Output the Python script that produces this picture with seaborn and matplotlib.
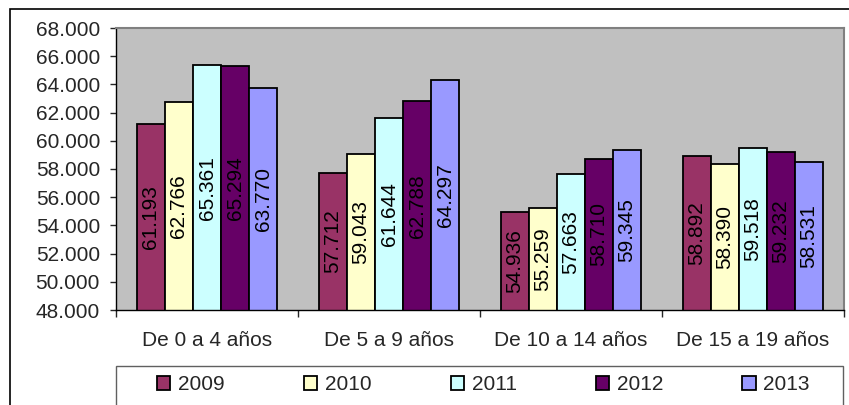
import matplotlib
matplotlib.use("Agg")
import matplotlib.pyplot as plt
import pandas as pd
import seaborn as sns
from matplotlib.patches import Rectangle

# Población por grupo de edad (miles), 2009-2013
categories = ["De 0 a 4 años", "De 5 a 9 años", "De 10 a 14 años", "De 15 a 19 años"]
years = ["2009", "2010", "2011", "2012", "2013"]
v2009 = [61.193, 57.712, 54.936, 58.892]
v2010 = [62.766, 59.043, 55.259, 58.390]
v2011 = [65.361, 61.644, 57.663, 59.518]
v2012 = [65.294, 62.788, 58.710, 59.232]
v2013 = [63.770, 64.297, 59.345, 58.531]
colors = ["#993366", "#FFFFCC", "#CCFFFF", "#660066", "#9999FF"]

Y_MIN, Y_MAX = 48, 68
y_ticks = list(range(Y_MIN, Y_MAX + 1, 2))

rows = []
for year, vals in zip(years, [v2009, v2010, v2011, v2012, v2013]):
    for cat, v in zip(categories, vals):
        rows.append({"grupo": cat, "anio": year, "valor": v})
df = pd.DataFrame(rows)

sns.set_style("white")
plt.rcParams["font.family"] = ["Liberation Sans", "DejaVu Sans"]

W, H = 849, 405
fig = plt.figure(figsize=(W / 100, H / 100), dpi=100)
ax = fig.add_axes([116 / W, 1 - 310 / H, (844 - 116) / W, (310 - 28) / H])
ax.set_facecolor("#C0C0C0")

sns.barplot(
    data=df,
    x="grupo",
    y="valor",
    hue="anio",
    order=categories,
    hue_order=years,
    palette=colors,
    saturation=1,
    width=0.77,
    edgecolor="black",
    linewidth=1.3,
    ax=ax,
)

# value labels, vertical, centred in the visible part of each bar
for cont in ax.containers:
    for bar in cont:
        h = bar.get_height()
        ax.text(
            bar.get_x() + bar.get_width() / 2,
            (Y_MIN + h) / 2,
            f"{h:.3f}",
            rotation=90,
            ha="center",
            va="center",
            fontsize=15,
            color="black",
        )

ax.set_ylim(Y_MIN, Y_MAX)
ax.set_xlim(-0.5, len(categories) - 0.5)
ax.set_yticks(y_ticks)
ax.set_yticklabels([f"{t:.3f}" for t in y_ticks], fontsize=15)
ax.tick_params(axis="y", length=4.5, width=1, pad=7, direction="out", left=True)

# separators between groups as major ticks, names as minor ticks
ax.set_xticks([i - 0.5 for i in range(len(categories) + 1)])
ax.set_xticklabels([""] * (len(categories) + 1))
ax.set_xticks(range(len(categories)), minor=True)
ax.set_xticklabels(categories, minor=True, fontsize=15)
ax.tick_params(axis="x", which="major", length=5, width=1, direction="out", bottom=True)
ax.tick_params(axis="x", which="minor", length=0, pad=15)
ax.set_xlabel("")
ax.set_ylabel("")

for side in ["top", "right"]:
    ax.spines[side].set_color("#808080")
    ax.spines[side].set_linewidth(1.5)
for side in ["left", "bottom"]:
    ax.spines[side].set_color("black")
    ax.spines[side].set_linewidth(1)

handles, labels = ax.get_legend_handles_labels()
ax.get_legend().remove()

# legend box under the plot area
fig.add_artist(Rectangle(
    (116 / W, -0.05), (843 - 116) / W, 0.05 + (405 - 366) / H,
    transform=fig.transFigure, facecolor="white", edgecolor="#606060", lw=1, zorder=1,
))
fig.legend(
    handles, labels,
    ncol=5,
    loc="center left",
    bbox_to_anchor=(157 / W, 1 - 385 / H),
    frameon=False,
    fontsize=15,
    handlelength=0.63,
    handleheight=0.63,
    handletextpad=0.38,
    columnspacing=3.8,
    borderpad=0,
    borderaxespad=0,
)

# outer chart border
fig.add_artist(Rectangle(
    (10 / W, -0.05), 1.0, 0.05 + 1 - 9 / H,
    transform=fig.transFigure, fill=False, edgecolor="black", lw=1.2,
))

fig.savefig("out.png", dpi=100)
plt.close(fig)
